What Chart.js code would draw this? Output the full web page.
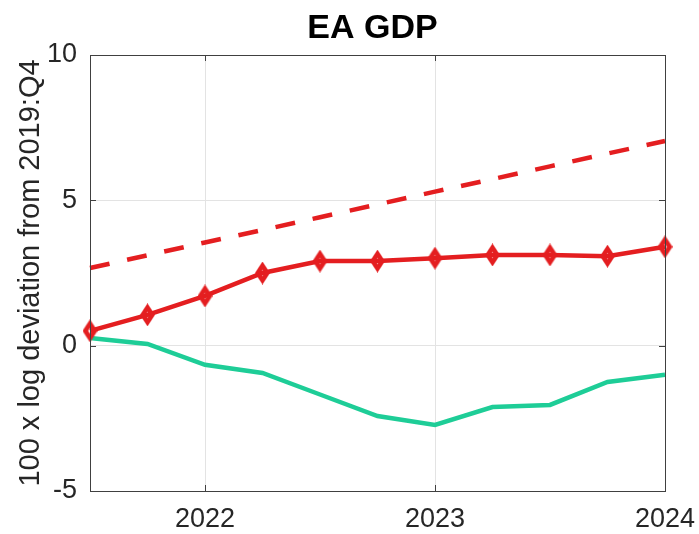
<!DOCTYPE html>
<html>
<head>
<meta charset="utf-8">
<script src="https://cdn.jsdelivr.net/npm/chart.js@4/dist/chart.umd.min.js"></script>
<style>
  html, body { margin: 0; padding: 0; background: #fff; }
  #wrap { width: 699px; height: 534px; }
</style>
</head>
<body>
<div id="wrap"><canvas id="grafico" width="699" height="534"></canvas></div>
<script>
// quarters on the x axis (year + fraction)
const trimestres = [2021.5, 2021.75, 2022, 2022.25, 2022.5, 2022.75, 2023, 2023.25, 2023.5, 2023.75, 2024];
// red line with diamonds
const pibEA = [0.51, 1.06, 1.71, 2.50, 2.91, 2.91, 3.01, 3.12, 3.12, 3.08, 3.40];
// red dashed line
const tendencia = [2.67, 3.11, 3.55, 3.98, 4.42, 4.86, 5.30, 5.73, 6.17, 6.61, 7.04];
// green line
const verde = [0.26, 0.06, -0.66, -0.94, -1.68, -2.42, -2.73, -2.11, -2.04, -1.25, -1.00];

const ticksX = [2022, 2023, 2024];
const ticksY = [-5, 0, 5, 10];
const titulo = "EA GDP";

const rojo = "#e41e20";
const colorVerde = "#1ecd97";
const fuente = "'Liberation Sans', Arial, Helvetica, sans-serif";

// elongated diamond marker (thick edge, tiny hole)
const diamante = document.createElement("canvas");
diamante.width = 15;
diamante.height = 23;
(() => {
  const c = diamante.getContext("2d");
  c.fillStyle = rojo;
  c.beginPath();
  c.moveTo(7.5, 0); c.lineTo(15, 11.5); c.lineTo(7.5, 23); c.lineTo(0, 11.5);
  c.closePath();
  c.fill();
  c.globalCompositeOperation = "destination-out";
  c.beginPath();
  c.moveTo(7.5, 8.5); c.lineTo(9.3, 11.5); c.lineTo(7.5, 14.5); c.lineTo(5.7, 11.5);
  c.closePath();
  c.fill();
})();

const puntos = serie => serie.map((v, i) => ({ x: trimestres[i], y: v }));

// box frame + inward ticks + title over the axes, like the original
const marco = {
  id: "marco",
  afterDraw(chart) {
    const { ctx, chartArea: a, scales } = chart;
    ctx.save();
    ctx.strokeStyle = "#404040";
    ctx.lineWidth = 1;
    ctx.strokeRect(Math.round(a.left) + 0.5, Math.round(a.top) + 0.5,
      Math.round(a.right - a.left), Math.round(a.bottom - a.top));
    const largo = 6;
    ctx.beginPath();
    ticksX.forEach(v => {
      const px = Math.round(scales.x.getPixelForValue(v)) + 0.5;
      ctx.moveTo(px, a.bottom); ctx.lineTo(px, a.bottom - largo);
      ctx.moveTo(px, a.top); ctx.lineTo(px, a.top + largo);
    });
    ticksY.forEach(v => {
      const py = Math.round(scales.y.getPixelForValue(v)) + 0.5;
      ctx.moveTo(a.left, py); ctx.lineTo(a.left + largo, py);
      ctx.moveTo(a.right, py); ctx.lineTo(a.right - largo, py);
    });
    ctx.stroke();

    ctx.fillStyle = "#000";
    ctx.font = "bold 34px " + fuente;
    ctx.textAlign = "center";
    ctx.textBaseline = "alphabetic";
    ctx.fillText(titulo, (a.left + a.right) / 2 - 5, 38);
    ctx.restore();
  }
};

const config = {
  type: "line",
  data: {
    datasets: [
      {
        label: "EA GDP",
        data: puntos(pibEA),
        borderColor: rojo,
        borderWidth: 4.5,
        pointStyle: diamante,
        pointRadius: 8,
        tension: 0,
        clip: false
      },
      {
        label: "tendencia",
        data: puntos(tendencia),
        borderColor: rojo,
        borderWidth: 4.5,
        borderDash: [20, 18],
        pointRadius: 0,
        tension: 0,
        clip: false
      },
      {
        label: "verde",
        data: puntos(verde),
        borderColor: colorVerde,
        borderWidth: 4.5,
        pointRadius: 0,
        tension: 0,
        clip: false
      }
    ]
  },
  options: {
    responsive: false,
    animation: false,
    events: [],
    layout: { padding: { left: 0, right: 34, top: 55, bottom: 0 } },
    plugins: {
      legend: { display: false },
      tooltip: { enabled: false },
      title: { display: false }
    },
    scales: {
      x: {
        type: "linear",
        min: 2021.5,
        max: 2024,
        afterBuildTicks: s => { s.ticks = ticksX.map(v => ({ value: v })); },
        afterFit: s => { s.height = 43; s.paddingLeft = 0; s.paddingRight = 0; },
        grid: { color: "#e3e3e3", drawTicks: false },
        border: { color: "#404040" },
        ticks: {
          color: "#262626",
          font: { family: fuente, size: 27 },
          padding: 12,
          maxRotation: 0,
          callback: v => String(v)
        }
      },
      y: {
        min: -5,
        max: 10,
        afterBuildTicks: s => { s.ticks = ticksY.map(v => ({ value: v })); },
        afterFit: s => { s.width = 90; s.paddingTop = 0; s.paddingBottom = 0; },
        grid: { color: "#e3e3e3", drawTicks: false },
        border: { color: "#404040" },
        ticks: {
          color: "#262626",
          font: { family: fuente, size: 27 },
          padding: 13,
          callback: v => String(v)
        },
        title: {
          display: true,
          text: "100 x log deviation from 2019:Q4",
          color: "#262626",
          font: { family: fuente, size: 29 },
          padding: { top: 14, bottom: 0 }
        }
      }
    }
  },
  plugins: [marco]
};

new Chart(document.getElementById("grafico"), config);
</script>
</body>
</html>
